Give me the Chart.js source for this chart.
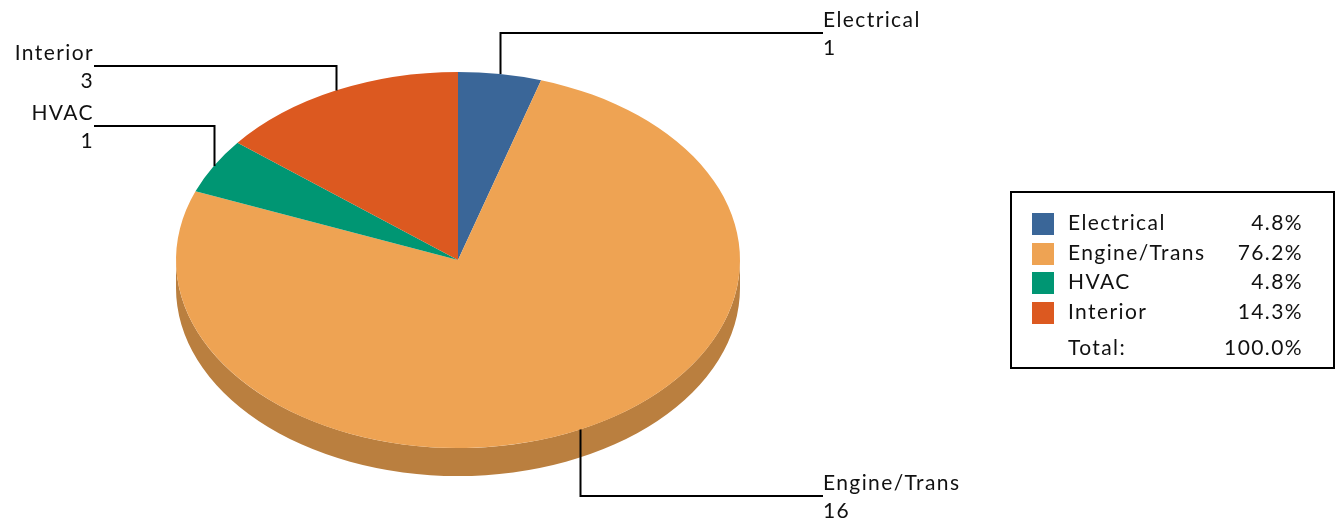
<!DOCTYPE html>
<html>
<head>
<meta charset="utf-8">
<script src="https://cdn.jsdelivr.net/npm/chart.js@4/dist/chart.umd.min.js"></script>
<style>
  body { margin: 0; background: #fff; }
  #wrap { position: relative; width: 1338px; height: 520px; }
  #legend {
    position: absolute; left: 1010px; top: 191px; width: 325px; height: 178px;
    border: 2px solid #000; box-sizing: border-box;
    font-family: Lato, "Open Sans", sans-serif; font-size: 21px; letter-spacing: 1.4px; color: #111;
  }
  .row { position: absolute; left: 0; right: 0; height: 30px; line-height: 30px; }
  .sw { position: absolute; left: 20px; top: 6px; width: 22px; height: 22px; }
  .nm { position: absolute; left: 56px; }
  .pc { position: absolute; right: 30px; }
</style>
</head>
<body>
<div id="wrap">
  <canvas id="pie" width="1338" height="520"></canvas>
  <div id="legend"></div>
</div>
<script>
var categories = ["Electrical", "Engine/Trans", "HVAC", "Interior"];
var counts = [1, 16, 1, 3];
var colors = ["#3A6698", "#EEA353", "#009673", "#DC5920"];
var sideColors = ["#2C4E75", "#BA7F3F", "#00735A", "#A94418"];

// label leader layout (y of the horizontal leader line)
var labelLineY = [33, 496, 126, 66];
var rightTextX = 823, leftTextX = 94;

var stretchX = 1.5;   // ellipse is 1.5x wider than tall
var depth = 28;

var total = counts.reduce(function (a, b) { return a + b; }, 0);

var pie3d = {
  id: 'pie3d',
  beforeDatasetsDraw: function (chart) {
    var ctx = chart.ctx;
    var arcs = chart.getDatasetMeta(0).data;
    var cx = arcs[0].x, cy = arcs[0].y, r = arcs[0].outerRadius;
    ctx.save();
    // side wall (only front half visible)
    arcs.forEach(function (arc, i) {
      var s = arc.startAngle, e = arc.endAngle;
      for (var k = -1; k <= 1; k++) {
        var a1 = Math.max(s, k * 2 * Math.PI), a2 = Math.min(e, k * 2 * Math.PI + Math.PI);
        if (a2 <= a1) continue;
        ctx.beginPath();
        ctx.ellipse(cx, cy, r * stretchX, r, 0, a1, a2);
        ctx.ellipse(cx, cy + depth, r * stretchX, r, 0, a2, a1, true);
        ctx.closePath();
        ctx.fillStyle = sideColors[i];
        ctx.fill();
      }
    });
    ctx.translate(cx, cy);
    ctx.scale(stretchX, 1);
    ctx.translate(-cx, -cy);
  },
  afterDatasetsDraw: function (chart) {
    chart.ctx.restore();
  },
  afterDraw: function (chart) {
    var ctx = chart.ctx;
    var arcs = chart.getDatasetMeta(0).data;
    ctx.save();
    ctx.font = '21px Lato, "Open Sans", sans-serif';
    ctx.letterSpacing = '1.4px';
    ctx.fillStyle = '#111';
    ctx.strokeStyle = '#000';
    ctx.lineWidth = 2;
    ctx.textBaseline = 'middle';
    arcs.forEach(function (arc, i) {
      var mid = (arc.startAngle + arc.endAngle) / 2;
      var ax = arc.x + arc.outerRadius * stretchX * Math.cos(mid);
      var ay = arc.y + arc.outerRadius * Math.sin(mid);
      var right = Math.cos(mid) > 0;
      var ly = labelLineY[i];
      var tx = right ? rightTextX : leftTextX;
      ctx.beginPath();
      ctx.moveTo(Math.round(ax) + 0.5, ay);
      ctx.lineTo(Math.round(ax) + 0.5, ly);
      ctx.lineTo(tx, ly);
      ctx.stroke();
      ctx.textAlign = right ? 'left' : 'right';
      ctx.fillText(categories[i], tx, ly - 13);
      ctx.fillText(String(counts[i]), tx, ly + 15);
    });
    ctx.restore();
  }
};

new Chart(document.getElementById('pie'), {
  type: 'pie',
  data: {
    labels: categories,
    datasets: [{
      data: counts,
      backgroundColor: colors,
      borderWidth: 0,
      hoverOffset: 0
    }]
  },
  options: {
    responsive: false,
    animation: false,
    events: [],
    layout: { padding: { left: 82, right: 504, top: 72, bottom: 72 } },
    plugins: { legend: { display: false }, tooltip: { enabled: false } }
  },
  plugins: [pie3d]
});

// legend box
var legend = document.getElementById('legend');
var rowTops = [14, 44, 73, 103];
categories.forEach(function (name, i) {
  var row = document.createElement('div');
  row.className = 'row';
  row.style.top = rowTops[i] + 'px';
  row.innerHTML = '<span class="sw" style="background:' + colors[i] + '"></span>' +
    '<span class="nm">' + name + '</span>' +
    '<span class="pc">' + (counts[i] / total * 100).toFixed(1) + '%</span>';
  legend.appendChild(row);
});
var totalRow = document.createElement('div');
totalRow.className = 'row';
totalRow.style.top = '139px';
totalRow.innerHTML = '<span class="nm">Total:</span><span class="pc">100.0%</span>';
legend.appendChild(totalRow);
</script>
</body>
</html>
